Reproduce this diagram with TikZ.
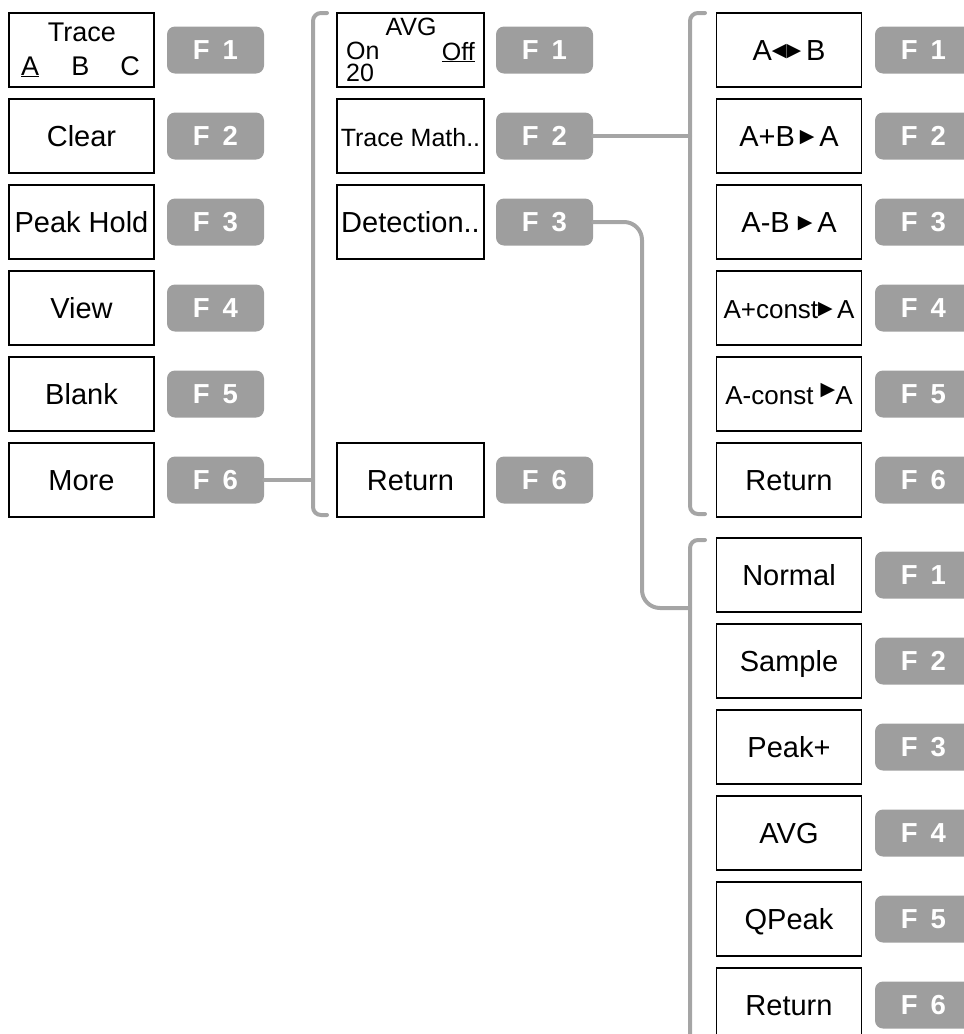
\documentclass[tikz,border=0pt]{standalone}
\usepackage{fontspec}
\setmainfont{Liberation Sans}
\newfontfamily\symfont{DejaVu Sans}
\definecolor{keygray}{RGB}{158,158,158}
\definecolor{linkgray}{RGB}{165,165,165}
\newcommand{\rtri}{\raisebox{4pt}{\symfont\fontsize{19}{19}\selectfont ▶}}
\newcommand{\ltri}{\raisebox{4pt}{\symfont\fontsize{19}{19}\selectfont ◀}}
\newcommand{\fk}[1]{F\hspace{13pt}#1}

\begin{document}
\begin{tikzpicture}[x=1pt, y=-1pt,
    menu/.style={draw, line width=1.6pt, minimum width=145pt, minimum height=74pt,
      inner sep=0pt, text height=21pt, text depth=0pt, font=\fontsize{29}{32}\selectfont},
    small/.style={inner sep=0pt, text height=18pt, text depth=0pt, font=\fontsize{25}{25}\selectfont},
    fkey/.style={fill=keygray, rounded corners=8pt, minimum width=97pt, minimum height=47pt,
      inner sep=0pt, text height=19pt, text depth=0pt, text=white,
      font=\fontsize{27.5}{28}\selectfont\bfseries},
    link/.style={draw=linkgray, line width=4pt, line cap=round}]
  \clip (0,0) rectangle (964,1034);
  % first menu
  \node[menu] (trace) at (81.5,50) {};
  \node[small, font=\fontsize{27}{27}\selectfont, anchor=base] (tracet) at (82,41) {Trace};
  \node[small, font=\fontsize{27}{27}\selectfont, anchor=base west] (tracea) at (21,75) {\underline{A}};
  \node[small, font=\fontsize{27}{27}\selectfont, anchor=base] (traceb) at (80.5,75) {B};
  \node[small, font=\fontsize{27}{27}\selectfont, anchor=base east] (tracec) at (140,75) {C};
  \node[menu] (clear) at (81.5,136) {Clear};
  \node[menu] (peak) at (81.5,222) {Peak Hold};
  \node[menu] (view) at (81.5,308) {View};
  \node[menu] (blank) at (81.5,394) {Blank};
  \node[menu] (more) at (81.5,480) {More};
  % second menu
  \node[menu, minimum width=147pt] (avg) at (410.5,50) {};
  \node[small, anchor=base] (avgt) at (411,35) {AVG};
  \node[inner sep=0pt, align=left, font=\fontsize{25}{22}\selectfont, anchor=north west] (avgon) at (346,42) {On\\20};
  \node[small, anchor=base east] (avgoff) at (475,60) {\underline{Off}};
  \node[menu, minimum width=147pt, font=\fontsize{25}{30}\selectfont] (math) at (410.5,136) {Trace Math..};
  \node[menu, minimum width=147pt] (detect) at (410.5,222) {Detection..};
  \node[menu, minimum width=147pt] (ret2) at (410.5,480) {Return};
  % trace math menu
  \node[menu] (swap) at (789,50) {A\ltri\rtri\,B};
  \node[menu] (sum) at (789,136) {A+B\,\rtri\,A};
  \node[menu] (diff) at (789,222) {A-B \rtri\,A};
  \node[menu, font=\fontsize{26}{30}\selectfont] (addc) at (789,308) {A+const\rtri\,A};
  \node[menu, font=\fontsize{26}{30}\selectfont] (subc) at (789,394) {A-const \raisebox{5pt}{\rtri}A};
  \node[menu] (ret3) at (789,480) {Return};
  % detection menu
  \node[menu] (normal) at (789,575) {Normal};
  \node[menu] (sample) at (789,661) {Sample};
  \node[menu] (peakp) at (789,747) {Peak+};
  \node[menu] (davg) at (789,833) {AVG};
  \node[menu] (qpeak) at (789,919) {QPeak};
  \node[menu] (ret4) at (789,1005) {Return};
  % soft keys
  \foreach \i/\y in {1/50,2/136,3/222,4/308,5/394,6/480} {
    \node[fkey] (ka\i) at (215.5,\y) {\fk{\i}};
    \node[fkey] (kc\i) at (923.5,\y) {\fk{\i}};
  }
  \foreach \i/\y in {1/50,2/136,3/222,6/480}
    \node[fkey] (kb\i) at (544.5,\y) {\fk{\i}};
  \foreach \i/\y in {1/575,2/661,3/747,4/833,5/919,6/1005}
    \node[fkey] (kd\i) at (923.5,\y) {\fk{\i}};
  % brackets and links
  \coordinate (br1) at (313,13);
  \coordinate (br2) at (690,13);
  \coordinate (br3) at (690,540);
  \coordinate (bend) at (642,608);
  \draw[link, rounded corners=8pt] (327,13) -- (br1) -- (313,515) -- (327,515);
  \draw[link, rounded corners=8pt] (705,13) -- (br2) -- (690,514) -- (705,514);
  \draw[link, rounded corners=8pt] (705,540) -- (br3) -- (690,1050);
  \draw[link] (ka6.east) -- (ka6.east -| br1);
  \draw[link] (kb2.east) -- (kb2.east -| br2);
  \draw[link, rounded corners=18pt] (kb3.east) -| (bend) -- (bend -| br3);
\end{tikzpicture}
\end{document}
